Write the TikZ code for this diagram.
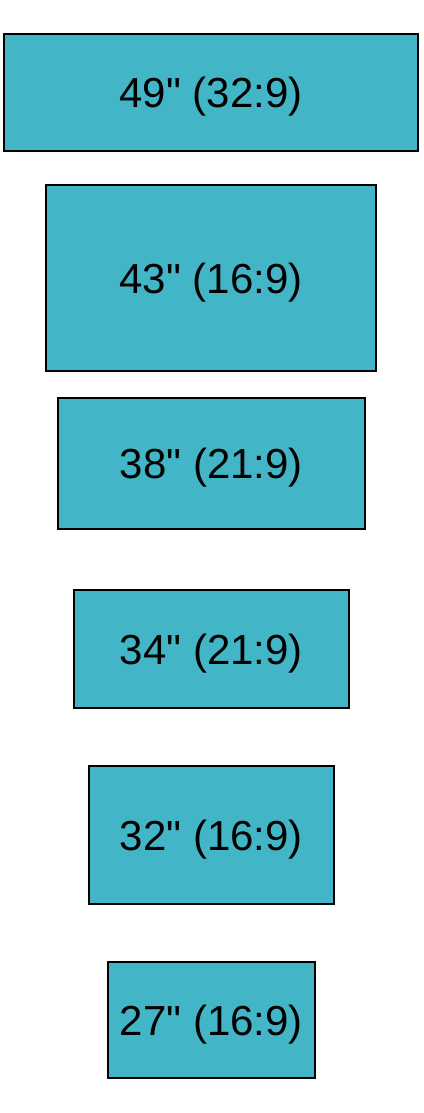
\documentclass[tikz,border=0pt]{standalone}
\usepackage{fontspec}
\setmainfont{Liberation Sans}[Ligatures=TeXOff]
\definecolor{tealbox}{HTML}{42B6C6}
\begin{document}
\begin{tikzpicture}[x=1pt,y=-1pt,
  screen/.style={draw=black,line width=2pt,fill=tealbox},
  screenlabel/.style={font=\fontsize{42}{50}\selectfont,inner sep=0,anchor=base}]
\useasboundingbox (0,0) rectangle (423,1113);
\newcommand{\scr}[6]{%
  \draw[screen] (#2,#3) rectangle (#4,#5);
  \node[screenlabel] (#1) at ({(#2+#4)/2},{(#3+#5)/2+15}) {#6};}
\scr{s49}{4}{34}{418}{151}{49\char"22\ (32:9)}
\scr{s43}{46}{185}{376}{371}{43\char"22\ (16:9)}
\scr{s38}{58}{398}{365}{529}{38\char"22\ (21:9)}
\scr{s34}{74}{590}{349}{708}{34\char"22\ (21:9)}
\scr{s32}{89}{766}{334}{904}{32\char"22\ (16:9)}
\scr{s27}{108}{962}{315}{1078}{27\char"22\ (16:9)}
\end{tikzpicture}
\end{document}
